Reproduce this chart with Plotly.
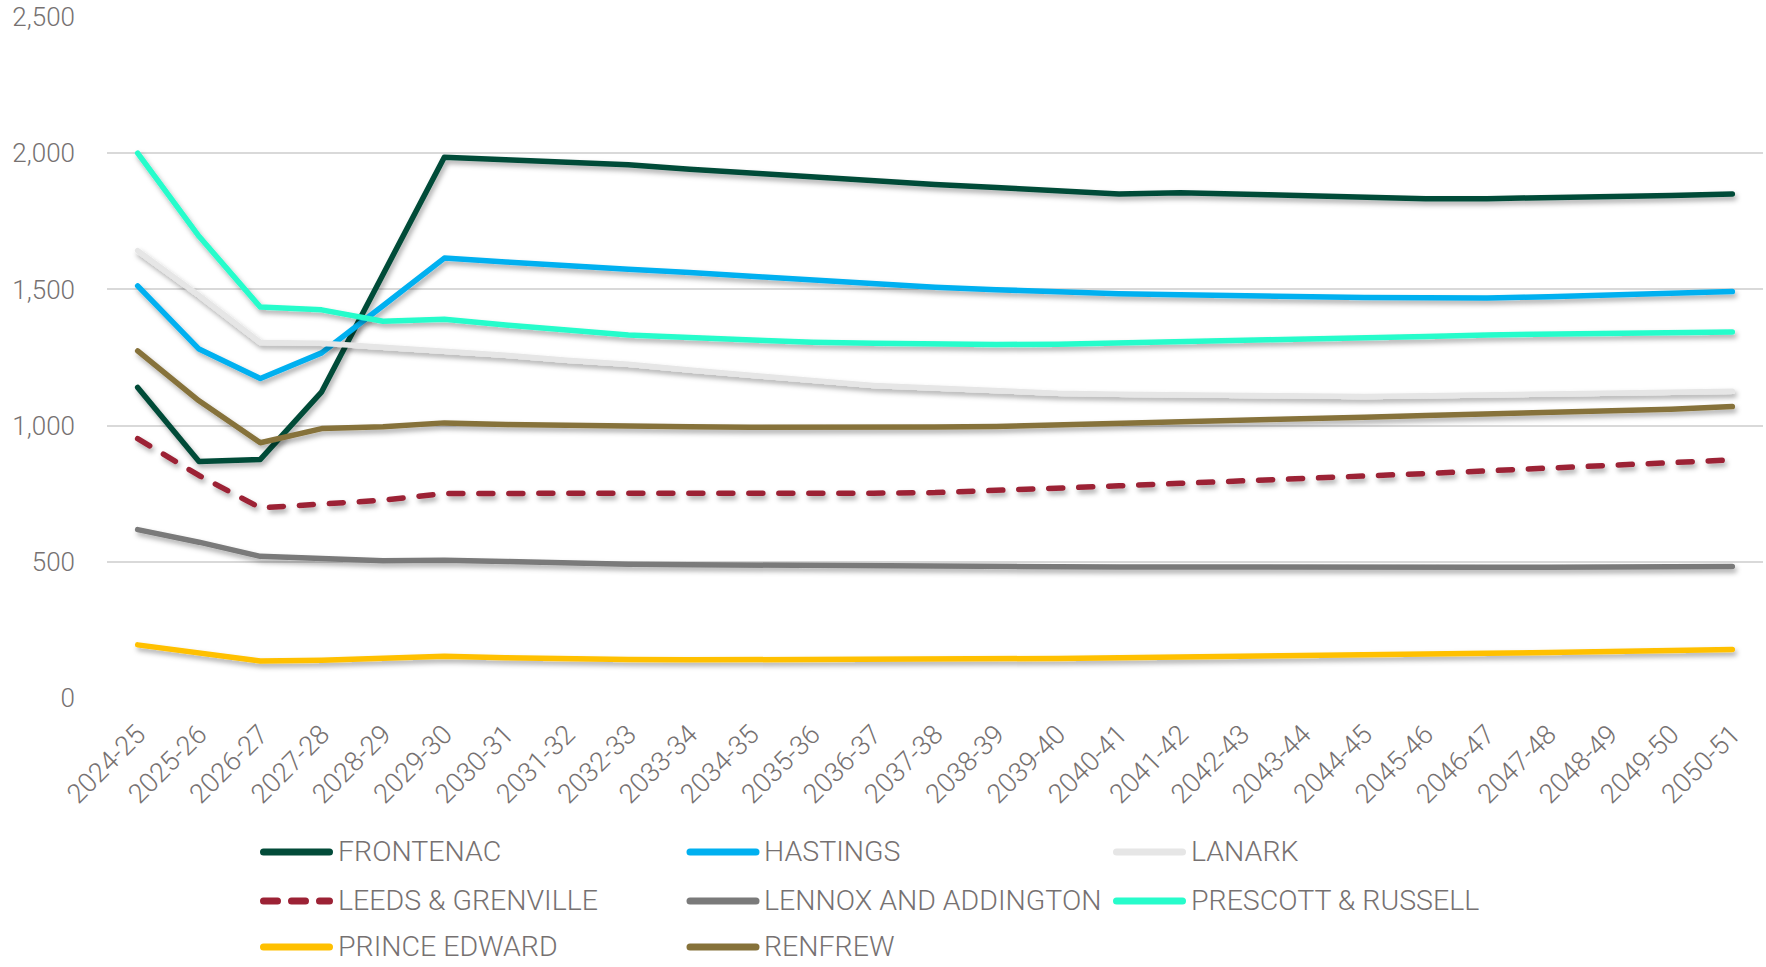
import plotly.graph_objects as go

# School-year periods on the category axis
years = [
    "2024-25", "2025-26", "2026-27", "2027-28", "2028-29", "2029-30", "2030-31",
    "2031-32", "2032-33", "2033-34", "2034-35", "2035-36", "2036-37", "2037-38",
    "2038-39", "2039-40", "2040-41", "2041-42", "2042-43", "2043-44", "2044-45",
    "2045-46", "2046-47", "2047-48", "2048-49", "2049-50", "2050-51",
]

frontenac = [1140, 868, 876, 1124, 1555, 1985, 1976, 1968, 1958, 1941, 1927, 1913, 1896, 1885,
             1874, 1862, 1850, 1855, 1850, 1843, 1836, 1833, 1833, 1836, 1838, 1845, 1850]
hastings = [1513, 1281, 1173, 1267, 1440, 1615, 1601, 1585, 1574, 1562, 1548, 1534, 1520, 1508,
            1499, 1489, 1484, 1480, 1475, 1473, 1470, 1469, 1468, 1473, 1478, 1485, 1492]
lanark = [1642, 1478, 1305, 1302, 1288, 1274, 1258, 1240, 1225, 1204, 1183, 1166, 1147, 1136,
          1126, 1119, 1115, 1113, 1110, 1105, 1107, 1110, 1112, 1115, 1118, 1122, 1126]
leeds_grenville = [952, 817, 698, 712, 726, 751, 751, 749, 748, 748, 749, 750, 752, 754,
                   761, 771, 779, 788, 796, 806, 815, 824, 834, 843, 853, 862, 874]
lennox_addington = [618, 572, 520, 510, 504, 506, 500, 494, 491, 489, 487, 486, 485, 484,
                    483, 482, 481, 480, 480, 480, 480, 480, 480, 480, 481, 482, 483]
prescott_russell = [2000, 1695, 1435, 1425, 1383, 1390, 1369, 1350, 1333, 1323, 1313, 1306, 1302, 1298,
                    1298, 1299, 1303, 1309, 1316, 1320, 1323, 1327, 1333, 1336, 1338, 1341, 1344]
prince_edward = [195, 164, 136, 139, 146, 153, 148, 143, 141, 140, 140, 140, 140, 141,
                 142, 145, 148, 150, 153, 156, 160, 162, 164, 167, 171, 175, 178]
renfrew = [1274, 1091, 937, 989, 996, 1010, 1004, 1000, 998, 996, 994, 993, 993, 995,
           997, 1002, 1010, 1016, 1021, 1025, 1031, 1037, 1042, 1048, 1053, 1060, 1070]

series_names = ["FRONTENAC", "HASTINGS", "LANARK", "LEEDS & GRENVILLE",
                "LENNOX AND ADDINGTON", "PRESCOTT & RUSSELL", "PRINCE EDWARD", "RENFREW"]
series_values = [frontenac, hastings, lanark, leeds_grenville,
                 lennox_addington, prescott_russell, prince_edward, renfrew]
series_colors = ["#024B39", "#00B0F0", "#E6E6E6", "#9C2235",
                 "#7A7A7A", "#27FCCB", "#FFC000", "#86723A"]
series_dash = ["solid", "solid", "solid", "14px,16px", "solid", "solid", "solid", "solid"]

TEXT = "#767171"
FONT = "Roboto"
W, H = 1766, 967
L, R, T, B = 107, 3, 17, 269
PW, PH = W - L - R, H - T - B

fig = go.Figure()
for name, vals, col, dash in zip(series_names, series_values, series_colors, series_dash):
    fig.add_trace(go.Scatter(
        x=years, y=vals, name=name, mode="lines",
        line=dict(color=col, width=5.5, dash=dash),
        showlegend=False, hoverinfo="x+y+name",
    ))

# Hand-laid legend: three columns, three rows beneath the plot
def px_x(px):
    return (px - L) / PW

def px_y(py):
    return (H - B - py) / PH

col_x = [263.5, 690, 1116.5]
row_y = [852, 901, 947]
shapes, annotations = [], []
for k, (name, col, dash) in enumerate(zip(series_names, series_colors, series_dash)):
    r, c = divmod(k, 3)
    x0 = col_x[c]
    y0 = row_y[r]
    shapes.append(dict(
        type="line", xref="paper", yref="paper",
        x0=px_x(x0), x1=px_x(x0 + 66), y0=px_y(y0), y1=px_y(y0),
        line=dict(color=col, width=7, dash="14px,14px" if dash != "solid" else "solid"),
    ))
    annotations.append(dict(
        text=name, xref="paper", yref="paper", x=px_x(x0 + 73), y=px_y(y0 - 1),
        xanchor="left", yanchor="middle", showarrow=False, borderpad=0,
        font=dict(family=FONT, size=28.5, color=TEXT, weight=300),
    ))

fig.update_layout(
    width=W, height=H, autosize=False,
    margin=dict(l=L, r=R, t=T, b=B, pad=0),
    paper_bgcolor="white", plot_bgcolor="white",
    font=dict(family=FONT, color=TEXT, weight=300),
    shapes=shapes, annotations=annotations,
    xaxis=dict(
        type="category", range=[-0.5, len(years) - 0.5],
        showgrid=False, zeroline=False, showline=False, ticks="",
        tickangle=-45, tickfont=dict(family=FONT, size=27, color=TEXT, weight=300),
        ticklabelstandoff=14,
    ),
    yaxis=dict(
        range=[0, 2500], dtick=500, tickformat=",",
        showgrid=True, gridcolor="#D9D9D9", gridwidth=1.5,
        zeroline=False, showline=False, ticks="",
        tickfont=dict(family=FONT, size=26, color=TEXT, weight=300),
        ticklabelstandoff=31,
    ),
)

# Soft drop shadow under the series lines, rounded line ends
post = """
var gd = document.getElementById('{plot_id}');
function styleLines(){
  var ns = 'http://www.w3.org/2000/svg';
  var defs = gd.querySelector('defs');
  if (defs && !document.getElementById('lineshadow')) {
    var f = document.createElementNS(ns, 'filter');
    f.setAttribute('id', 'lineshadow');
    f.setAttribute('filterUnits', 'userSpaceOnUse');
    f.setAttribute('x', '-100'); f.setAttribute('y', '-100');
    f.setAttribute('width', '3000'); f.setAttribute('height', '2000');
    var d = document.createElementNS(ns, 'feDropShadow');
    d.setAttribute('dx', '2'); d.setAttribute('dy', '3.5');
    d.setAttribute('stdDeviation', '2.5');
    d.setAttribute('flood-color', '#000'); d.setAttribute('flood-opacity', '0.33');
    f.appendChild(d); defs.appendChild(f);
  }
  gd.querySelectorAll('.scatterlayer .trace .js-line').forEach(function(p){
    p.setAttribute('filter', 'url(#lineshadow)');
    p.style.strokeLinecap = 'round';
    p.style.strokeLinejoin = 'round';
  });
  gd.querySelectorAll('.shapelayer path').forEach(function(p){
    p.style.strokeLinecap = 'round';
  });
}
styleLines();
gd.on('plotly_afterplot', styleLines);
"""

fig.write_html("out.html", post_script=post)
